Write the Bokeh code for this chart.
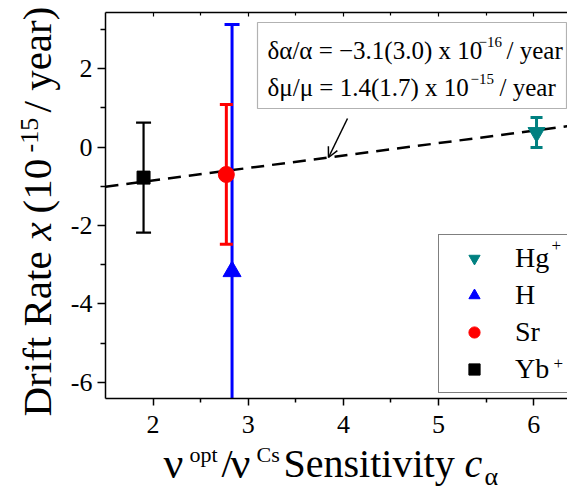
import math
from bokeh.plotting import figure
from bokeh.models import (ColumnDataSource, Label, BoxAnnotation, Arrow, OpenHead,
                          Legend, LegendItem, FixedTicker, LinearAxis, Range1d)
from bokeh.embed import file_html
from bokeh.resources import INLINE

# ---- data ----
species = ["Yb", "Sr", "H", "Hg"]
sensitivity = [1.90, 2.77, 2.83, 6.03]
drift = [-0.78, -0.70, -3.17, 0.37]
drift_err = [1.40, 1.78, 6.29, 0.38]
colors = ["#000000", "#ff0000", "#0000ff", "#008080"]
markers = ["square", "circle", "triangle", "inverted_triangle"]
msizes = [13, 16, 18, 17]
fit_x = [1.5, 6.36]
fit_y = [-1.01, 0.53]
x_ticks = [2, 3, 4, 5, 6]
x_minor = [2.5, 3.5, 4.5, 5.5]
y_ticks = [-6, -4, -2, 0, 2]
y_minor = [-5, -3, -1, 1, 3]

# ---- geometry ----
W, H = 567, 490
AXL, AXT, AXB = 105, 12, 398          # axis positions in canvas px
XPX = 95.15
XAX = (1.5, 1.5 + (W - AXL) / XPX)    # x axis span
YAX = (-6.408, 3.427)                 # y axis span
YPX = (AXB - AXT) / (YAX[1] - YAX[0])
X0 = XAX[0] - AXL / XPX
X1 = XAX[1]
Y1 = YAX[1] + AXT / YPX
Y0 = YAX[0] - (H - AXB) / YPX

def cx(px):
    return X0 + px / W * (X1 - X0)

def cy(py):
    return Y1 - py / H * (Y1 - Y0)

SERIF = "Liberation Serif"

p = figure(width=W, height=H, x_range=Range1d(X0, X1), y_range=Range1d(Y0, Y1),
           output_backend="svg", toolbar_location=None, x_axis_location=None,
           y_axis_location=None, min_border=0)
p.title.visible = False
p.outline_line_color = None
p.grid.visible = False
p.background_fill_color = "white"
p.border_fill_color = "white"

def style(ax):
    ax.axis_line_width = 1.5
    ax.axis_line_color = "black"
    ax.major_tick_line_width = 1.5
    ax.minor_tick_line_width = 1.5
    ax.major_label_text_font = SERIF
    ax.major_label_text_font_size = "26px"
    ax.major_label_text_color = "black"

xb = LinearAxis(ticker=FixedTicker(ticks=x_ticks, minor_ticks=x_minor),
                fixed_location=YAX[0], bounds=XAX,
                major_tick_in=0, major_tick_out=7, minor_tick_in=0, minor_tick_out=4,
                major_label_standoff=10,
                major_label_overrides={t: str(t) for t in x_ticks})
style(xb)
p.add_layout(xb, "below")

yl = LinearAxis(ticker=FixedTicker(ticks=y_ticks, minor_ticks=y_minor),
                fixed_location=XAX[0], bounds=YAX,
                major_tick_in=0, major_tick_out=8, minor_tick_in=0, minor_tick_out=5,
                major_label_standoff=5,
                major_label_overrides={t: str(t) for t in y_ticks})
style(yl)
p.add_layout(yl, "left")

xt = LinearAxis(ticker=FixedTicker(ticks=x_ticks, minor_ticks=x_minor),
                fixed_location=YAX[1], bounds=XAX,
                major_tick_in=4, major_tick_out=0, minor_tick_in=3, minor_tick_out=0,
                major_label_text_font_size="0px", major_label_standoff=0,
                major_label_overrides={t: "" for t in x_ticks})
style(xt)
xt.major_tick_line_width = 1.2
xt.minor_tick_line_width = 1.2
p.add_layout(xt, "above")

# ---- fit line ----
p.line(fit_x, fit_y, line_color="black", line_width=2.5, line_dash="13 8")

# ---- error bars (limited to the axis box) ----
lo = [d - e for d, e in zip(drift, drift_err)]
hi = [d + e for d, e in zip(drift, drift_err)]
lo_vis = [max(v, YAX[0]) for v in lo]
hi_vis = [min(v, YAX[1]) for v in hi]
cap = [15, 13, 15, 12]
lw = [2.2, 3, 3, 3]
src = ColumnDataSource(dict(x=sensitivity, lo=lo_vis, hi=hi_vis, color=colors, lw=lw,
                            cap_lo=[c if v >= YAX[0] else 0 for c, v in zip(cap, lo)],
                            cap_hi=[c if v <= YAX[1] else 0 for c, v in zip(cap, hi)]))
p.segment(x0="x", y0="lo", x1="x", y1="hi", line_color="color", line_width="lw", source=src)
p.scatter(x="x", y="hi", marker="dash", size="cap_hi", line_color="color", line_width="lw", source=src)
p.scatter(x="x", y="lo", marker="dash", size="cap_lo", line_color="color", line_width="lw", source=src)

# ---- markers ----
rends = {}
for i, s in enumerate(species):
    rends[s] = p.scatter([sensitivity[i]], [drift[i]], marker=markers[i], size=msizes[i],
                         fill_color=colors[i], line_color=colors[i], line_width=1)

def lab(px, py, text, size, style="normal", angle=0.0, font=SERIF):
    # (px, py): left end of the text and vertical middle of its em box
    p.add_layout(Label(x=cx(px), y=cy(py), text=text, text_font=font,
                       text_font_size=f"{size}px", text_font_style=style,
                       text_color="black", text_baseline="middle",
                       text_align="left", angle=angle))

# superscript charges for the legend entries (legend background is transparent)
lab(551, 245, "+", 17)
lab(553, 363, "+", 17)

legend = Legend(items=[LegendItem(label="Hg", renderers=[rends["Hg"]]),
                       LegendItem(label="H", renderers=[rends["H"]]),
                       LegendItem(label="Sr", renderers=[rends["Sr"]]),
                       LegendItem(label="Yb", renderers=[rends["Yb"]])],
                location=(438, H - 393), orientation="vertical",
                label_text_font=SERIF, label_text_font_size="28px",
                label_text_color="black",
                glyph_width=56, glyph_height=28, label_height=28, label_width=45,
                label_standoff=13, spacing=5, padding=7, margin=0,
                border_line_color="black", border_line_width=1.2,
                background_fill_alpha=0)
p.add_layout(legend, "center")

# ---- text box ----
box = BoxAnnotation(left=cx(257), right=cx(566), top=cy(22), bottom=cy(108),
                    fill_color="white", fill_alpha=1, line_color="black", line_width=1.2)
p.add_layout(box)
lab(267, 49.5, "\u03b4\u03b1/\u03b1 = \u22123.1(3.0) x 10", 25)
lab(478, 41, "\u221216", 15)
lab(506, 49.5, "/ year", 25)
lab(267, 86.5, "\u03b4\u03bc/\u03bc = 1.4(1.7) x 10", 25)
lab(470, 78, "\u221215", 15)
lab(499, 86.5, "/ year", 25)

p.add_layout(Arrow(end=OpenHead(size=10, line_width=1.5, line_color="black"),
                   x_start=cx(347), y_start=cy(118), x_end=cx(328), y_end=cy(157),
                   line_width=1.5, line_color="black"))

# ---- axis titles (rotated: mx is the middle line, py the start) ----
R = math.pi / 2
def vlab(mx, py, text, size, style="normal"):
    p.add_layout(Label(x=cx(mx), y=cy(py), text=text, text_font=SERIF,
                       text_font_size=f"{size}px", text_font_style=style,
                       text_color="black", text_baseline="middle",
                       text_align="left", angle=R))

vlab(36, 416, "Drift Rate", 41)
vlab(36, 240, "x", 41, style="italic")
vlab(36, 213, "(10", 41)
vlab(29, 152, "-15", 26)
vlab(36, 112, "/ year)", 41)

lab(163, 463, "\u03bd", 44)
lab(189, 454, "opt", 22)
lab(221, 463, "/", 40)
lab(230, 463, "\u03bd", 44)
lab(256, 454, "Cs", 22)
lab(283, 463, "Sensitivity", 40)
lab(464, 463, "c", 40, style="italic")
lab(484, 476, "\u03b1", 26)

open("out.html", "w").write(file_html(p, INLINE))
